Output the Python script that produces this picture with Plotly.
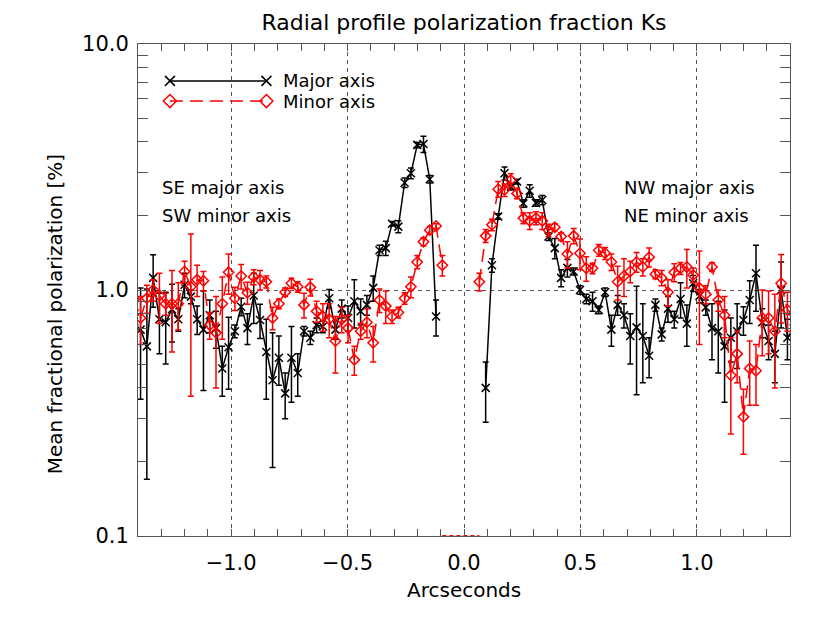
"""Radial profile of the Ks polarization fraction along the major and minor axes."""
import plotly.graph_objects as go

# radii (arcsec) of the sampled annuli, SE/SW side (negative) and NW/NE side (positive)
x_left = [
    -1.416, -1.389, -1.362, -1.335, -1.308, -1.281, -1.254, -1.227, -1.200, -1.173,
    -1.146, -1.119, -1.092, -1.065, -1.038, -1.011, -0.984, -0.957, -0.930, -0.903,
    -0.876, -0.849, -0.822, -0.795, -0.768, -0.741, -0.714, -0.687, -0.660, -0.633,
    -0.606, -0.579, -0.552, -0.525, -0.498, -0.471, -0.444, -0.417, -0.390, -0.363,
    -0.336, -0.309, -0.282, -0.255, -0.228, -0.201, -0.174, -0.147, -0.120, -0.093,
]
x_right = [
    0.066, 0.093, 0.120, 0.147, 0.174, 0.201, 0.228, 0.255, 0.282, 0.309,
    0.336, 0.363, 0.390, 0.417, 0.444, 0.471, 0.498, 0.525, 0.552, 0.579,
    0.606, 0.633, 0.660, 0.687, 0.714, 0.741, 0.768, 0.795, 0.822, 0.849,
    0.876, 0.903, 0.930, 0.957, 0.984, 1.011, 1.038, 1.065, 1.092, 1.119,
    1.146, 1.173, 1.200, 1.227, 1.254, 1.281, 1.308, 1.335, 1.362, 1.389, 1.416,
]

# major axis (black): left side has no value at the innermost radius, right side none at the first
major_left = [
    0.70, 0.69, 0.59, 1.12, 0.76, 0.74, 0.835, 0.76, 1.05, 0.94,
    0.76, 0.69, 0.79, 0.70, 0.48, 0.585, 0.68, 0.855, 0.70, 0.95,
    0.755, 0.56, 0.43, 0.53, 0.38, 0.53, 0.46, 0.68, 0.64, 0.72,
    0.71, 0.925, 0.69, 0.84, 0.77, 0.90, 0.82, 0.87, 1.02, 1.45,
    1.48, 1.86, 1.81, 2.73, 2.98, 3.89, 3.92, 2.82, 0.78,
]
major_left_err = [
    0.20, 0.33, 0.42, 0.27, 0.21, 0.24, 0.22, 0.08, 0.12, 0.06,
    0.10, 0.30, 0.12, 0.12, 0.11, 0.19, 0.04, 0.07, 0.10, 0.22,
    0.12, 0.20, 0.24, 0.12, 0.08, 0.18, 0.09, 0.03, 0.04, 0.05,
    0.04, 0.08, 0.06, 0.07, 0.09, 0.20, 0.10, 0.08, 0.12, 0.07,
    0.10, 0.04, 0.10, 0.12, 0.15, 0.10, 0.30, 0.10, 0.13,
]
major_right = [
    0.40, 1.26, 1.99, 2.98, 2.63, 2.76, 2.25, 2.53, 2.26, 2.32,
    1.65, 1.48, 1.12, 1.23, 1.19, 1.00, 0.92, 0.90, 0.83, 0.98,
    0.69, 0.87, 0.79, 0.65, 0.705, 0.65, 0.54, 0.87, 0.66, 0.84,
    0.76, 0.92, 0.73, 1.065, 0.945, 0.85, 0.70, 0.68, 0.59, 0.64,
    0.68, 0.755, 0.91, 1.17, 0.74, 0.62, 0.55, 1.00, 0.64, 0.70,
]
major_right_err = [
    0.11, 0.08, 0.05, 0.18, 0.08, 0.06, 0.08, 0.15, 0.07, 0.10,
    0.06, 0.14, 0.09, 0.10, 0.04, 0.04, 0.04, 0.08, 0.03, 0.04,
    0.10, 0.08, 0.09, 0.15, 0.33, 0.23, 0.10, 0.05, 0.04, 0.10,
    0.06, 0.15, 0.14, 0.08, 0.06, 0.06, 0.18, 0.22, 0.24, 0.13,
    0.20, 0.10, 0.18, 0.35, 0.10, 0.10, 0.13, 0.30, 0.12, 0.10,
]

# minor axis (red)
minor_left = [
    0.92, 0.77, 0.925, 1.00, 0.95, 0.88, 0.88, 0.88, 1.19, 1.03,
    1.10, 1.09, 0.72, 0.67, 0.88, 1.18, 0.925, 1.14, 0.975, 1.13,
    1.10, 1.08, 0.77, 0.88, 0.98, 1.065, 1.03, 0.87, 1.025, 0.82,
    0.78, 0.76, 0.62, 0.76, 0.70, 0.52, 0.68, 0.74, 0.61, 0.91,
    0.86, 0.78, 0.81, 0.925, 1.03, 1.30, 1.57, 1.75, 1.82, 1.26,
]
minor_left_err = [
    0.15, 0.17, 0.12, 0.10, 0.22, 0.09, 0.32, 0.19, 0.12, 0.66,
    0.16, 0.10, 0.09, 0.27, 0.25, 0.22, 0.10, 0.13, 0.10, 0.08,
    0.10, 0.06, 0.08, 0.04, 0.04, 0.05, 0.05, 0.10, 0.08, 0.08,
    0.10, 0.12, 0.16, 0.09, 0.09, 0.07, 0.05, 0.10, 0.10, 0.10,
    0.13, 0.05, 0.04, 0.05, 0.10, 0.08, 0.06, 0.06, 0.04, 0.12,
]
minor_right = [
    1.08, 1.66, 1.84, 2.57, 2.55, 2.80, 2.47, 1.96, 1.91, 1.96,
    1.91, 1.75, 1.80, 1.65, 1.40, 1.66, 1.41, 1.225, 1.225, 1.45,
    1.41, 1.30, 1.08, 1.14, 1.19, 1.30, 1.24, 1.36, 1.16, 1.12,
    0.98, 1.18, 1.225, 1.24, 1.15, 1.02, 0.96, 1.24, 0.91, 0.79,
    0.45, 0.55, 0.305, 0.48, 0.47, 0.77, 0.77, 0.68, 1.065, 0.83, 0.80,
]
minor_right_err = [
    0.09, 0.10, 0.10, 0.19, 0.15, 0.17, 0.12, 0.10, 0.15, 0.12,
    0.15, 0.10, 0.06, 0.06, 0.17, 0.12, 0.20, 0.14, 0.06, 0.08,
    0.08, 0.10, 0.17, 0.20, 0.12, 0.12, 0.10, 0.12, 0.05, 0.08,
    0.12, 0.10, 0.07, 0.22, 0.08, 0.42, 0.08, 0.05, 0.09, 0.15,
    0.19, 0.13, 0.09, 0.14, 0.13, 0.23, 0.22, 0.28, 0.33, 0.15, 0.10,
]

# innermost minor-axis annuli carry no signal and sit on the axis floor
gap_x = [-0.093, 0.066]
gap_y = [0.1, 0.1]

FONT = "DejaVu Sans"
BLACK = "#000000"
RED = "#ff0000"
RED_DASH = "13px,7px"

fig = go.Figure()


def add_profile(x, y, err, colour, symbol, dash):
    fig.add_trace(go.Scatter(
        x=x, y=y,
        mode="lines+markers",
        line=dict(color=colour, width=1.5, dash=dash),
        marker=dict(symbol=symbol, size=8, color=colour,
                    line=dict(color=colour, width=1.5)),
        error_y=dict(type="data", array=err, color=colour,
                     thickness=1.5, width=3),
        showlegend=False,
    ))


add_profile(x_left[:-1], major_left, major_left_err, BLACK, "x-thin-open", "solid")
add_profile(x_right[1:], major_right, major_right_err, BLACK, "x-thin-open", "solid")
add_profile(x_left, minor_left, minor_left_err, RED, "diamond-open", RED_DASH)
add_profile(x_right, minor_right, minor_right_err, RED, "diamond-open", RED_DASH)

fig.add_trace(go.Scatter(
    x=gap_x, y=gap_y, mode="lines",
    line=dict(color=RED, width=2, dash="4px,3px"),
    showlegend=False, hoverinfo="skip",
))

# hand-drawn legend key: long line with a marker at each end, as in the original
fig.add_trace(go.Scatter(
    x=[0.049, 0.197], y=[0.925, 0.925], xaxis="x2", yaxis="y2",
    mode="lines+markers",
    line=dict(color=BLACK, width=1.5),
    marker=dict(symbol="x-thin-open", size=10, line=dict(color=BLACK, width=1.5)),
    showlegend=False, hoverinfo="skip",
))
fig.add_trace(go.Scatter(
    x=[0.049, 0.197], y=[0.884, 0.884], xaxis="x2", yaxis="y2",
    mode="lines+markers",
    line=dict(color=RED, width=1.5, dash=RED_DASH),
    marker=dict(symbol="diamond-open", size=10, color=RED,
                line=dict(color=RED, width=1.5)),
    showlegend=False, hoverinfo="skip",
))

AXIS_COL = "#555555"
GRID_COL = "#555555"

# the page body adds an 8px margin, so the figure is 8px smaller on each axis
fig.update_layout(
    width=822, height=616,
    margin=dict(l=130, r=40, t=36, b=88),
    paper_bgcolor="white", plot_bgcolor="white",
    font=dict(family=FONT, size=20, color=BLACK),
    title=dict(text="Radial profile polarization fraction Ks",
               x=(464 - 8) / 822, xref="container", xanchor="center",
               y=1 - 14 / 616, yref="container", yanchor="middle",
               font=dict(family=FONT, size=22, color=BLACK)),
    xaxis=dict(
        range=[-1.4, 1.4],
        tickmode="array", tickvals=[-1.0, -0.5, 0.0, 0.5, 1.0],
        tickformat=".1f",
        ticks="inside", ticklen=7, tickcolor=AXIS_COL,
        ticklabelstandoff=8,
        minor=dict(dtick=0.1, tick0=0, ticks="inside", ticklen=7,
                   tickcolor=AXIS_COL, showgrid=False),
        showline=True, linecolor=AXIS_COL, linewidth=1, mirror="allticks",
        showgrid=True, gridcolor=GRID_COL, griddash="4px,4px", gridwidth=1,
        zeroline=False,
        tickfont=dict(family=FONT, size=21),
    ),
    yaxis=dict(
        type="log", range=[-1, 1],
        tickmode="array", tickvals=[0.1, 1, 10], ticktext=["0.1", "1.0", "10.0"],
        ticks="inside", ticklen=10, tickcolor=AXIS_COL,
        ticklabelstandoff=4,
        minor=dict(tickmode="array",
                   tickvals=[0.2, 0.3, 0.4, 0.5, 0.6, 0.7, 0.8, 0.9,
                             2, 3, 4, 5, 6, 7, 8, 9],
                   ticks="inside", ticklen=10, tickcolor=AXIS_COL, showgrid=False),
        showline=True, linecolor=AXIS_COL, linewidth=1, mirror="allticks",
        showgrid=True, gridcolor=GRID_COL, griddash="4px,4px", gridwidth=1,
        zeroline=False,
        tickfont=dict(family=FONT, size=21),
    ),
    xaxis2=dict(range=[0, 1], overlaying="x", visible=False, fixedrange=True),
    yaxis2=dict(range=[0, 1], overlaying="y", visible=False, fixedrange=True),
    showlegend=False,
)

annotations = [
    dict(text="Arcseconds", x=0.5, y=-0.1098, xanchor="center", yanchor="middle",
         font=dict(size=20)),
    dict(text="Mean fractional polarization [%]", x=-0.127, y=0.451,
         textangle=-90, xanchor="center", yanchor="middle", font=dict(size=20)),
    dict(text="Major axis", x=0.219, y=0.925, xanchor="left", yanchor="middle",
         font=dict(size=18)),
    dict(text="Minor axis", x=0.219, y=0.884, xanchor="left", yanchor="middle",
         font=dict(size=18)),
    dict(text="SE major axis", x=0.0337, y=0.709, xanchor="left", yanchor="middle",
         font=dict(size=18)),
    dict(text="SW minor axis", x=0.0337, y=0.652, xanchor="left", yanchor="middle",
         font=dict(size=18)),
    dict(text="NW major axis", x=0.742, y=0.709, xanchor="left", yanchor="middle",
         font=dict(size=18)),
    dict(text="NE minor axis", x=0.742, y=0.652, xanchor="left", yanchor="middle",
         font=dict(size=18)),
]
for a in annotations:
    fig.add_annotation(xref="paper", yref="paper", showarrow=False, **a)

fig.write_html("out.html")
